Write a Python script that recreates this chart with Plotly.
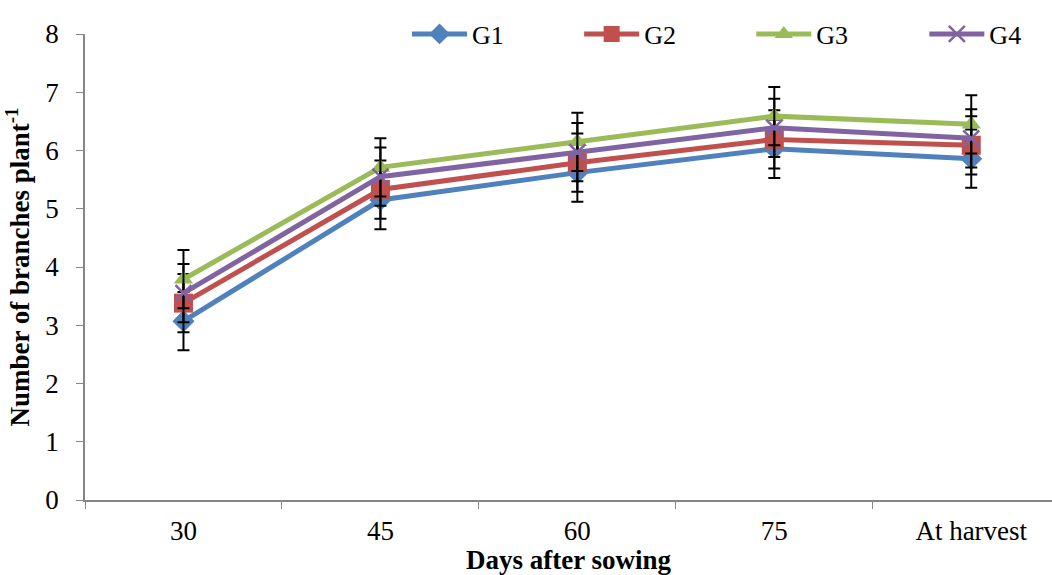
import plotly.graph_objects as go

categories = ["30", "45", "60", "75", "At harvest"]
g1 = [3.07, 5.15, 5.62, 6.03, 5.86]
g2 = [3.38, 5.33, 5.79, 6.19, 6.09]
g3 = [3.79, 5.71, 6.15, 6.59, 6.45]
g4 = [3.55, 5.55, 5.97, 6.39, 6.21]
err = [0.5, 0.5, 0.5, 0.5, 0.5]

series = [
    ("G1", g1, "#4F81BD", "diamond", 17, 0, "legend", 0.333),
    ("G2", g2, "#C0504D", "square", 19, 0, "legend2", 0.511),
    ("G3", g3, "#9BBB59", "triangle-up", 17, 0, "legend3", 0.689),
    ("G4", g4, "#8064A2", "x-thin", 16, 2.5, "legend4", 0.868),
]

font_family = "Liberation Serif, Times New Roman, serif"

fig = go.Figure()
legends = {}
for name, vals, color, sym, size, lw, lg, lx in series:
    fig.add_trace(go.Scatter(
        x=categories, y=vals, name=name, mode="lines+markers",
        line=dict(color=color, width=5),
        marker=dict(symbol=sym, size=size, color=color,
                    line=dict(color=color, width=lw)),
        error_y=dict(type="data", array=err, visible=True,
                     color="black", thickness=2, width=6),
        legend=lg,
    ))
    legends[lg] = dict(x=lx, y=1.0, xanchor="left", yanchor="middle",
                       orientation="h", font=dict(size=26, family=font_family),
                       itemwidth=55, bgcolor="rgba(0,0,0,0)")

fig.update_layout(
    width=1052, height=575,
    margin=dict(l=85, r=0, t=34, b=75),
    paper_bgcolor="white", plot_bgcolor="white",
    font=dict(family=font_family, size=27, color="black"),
    showlegend=True,
    xaxis=dict(
        type="category", tickson="boundaries",
        range=[-0.5, 4.41], showgrid=False, zeroline=False,
        showline=True, linecolor="#868686", linewidth=1.5,
        ticks="outside", ticklen=7, tickcolor="#868686",
        ticklabelstandoff=6,
        title=dict(text="<b>Days after sowing</b>", font=dict(size=27), standoff=0),
    ),
    yaxis=dict(
        range=[0, 8], dtick=1, showgrid=False, zeroline=False,
        showline=True, linecolor="#868686", linewidth=1.5,
        ticks="outside", ticklen=7, tickcolor="#868686",
        ticklabelstandoff=12,
        title=dict(text="<b>Number of branches plant<sup>-1</sup></b>", font=dict(size=27), standoff=8),
    ),
    **legends,
)
fig.write_html("out.html")
